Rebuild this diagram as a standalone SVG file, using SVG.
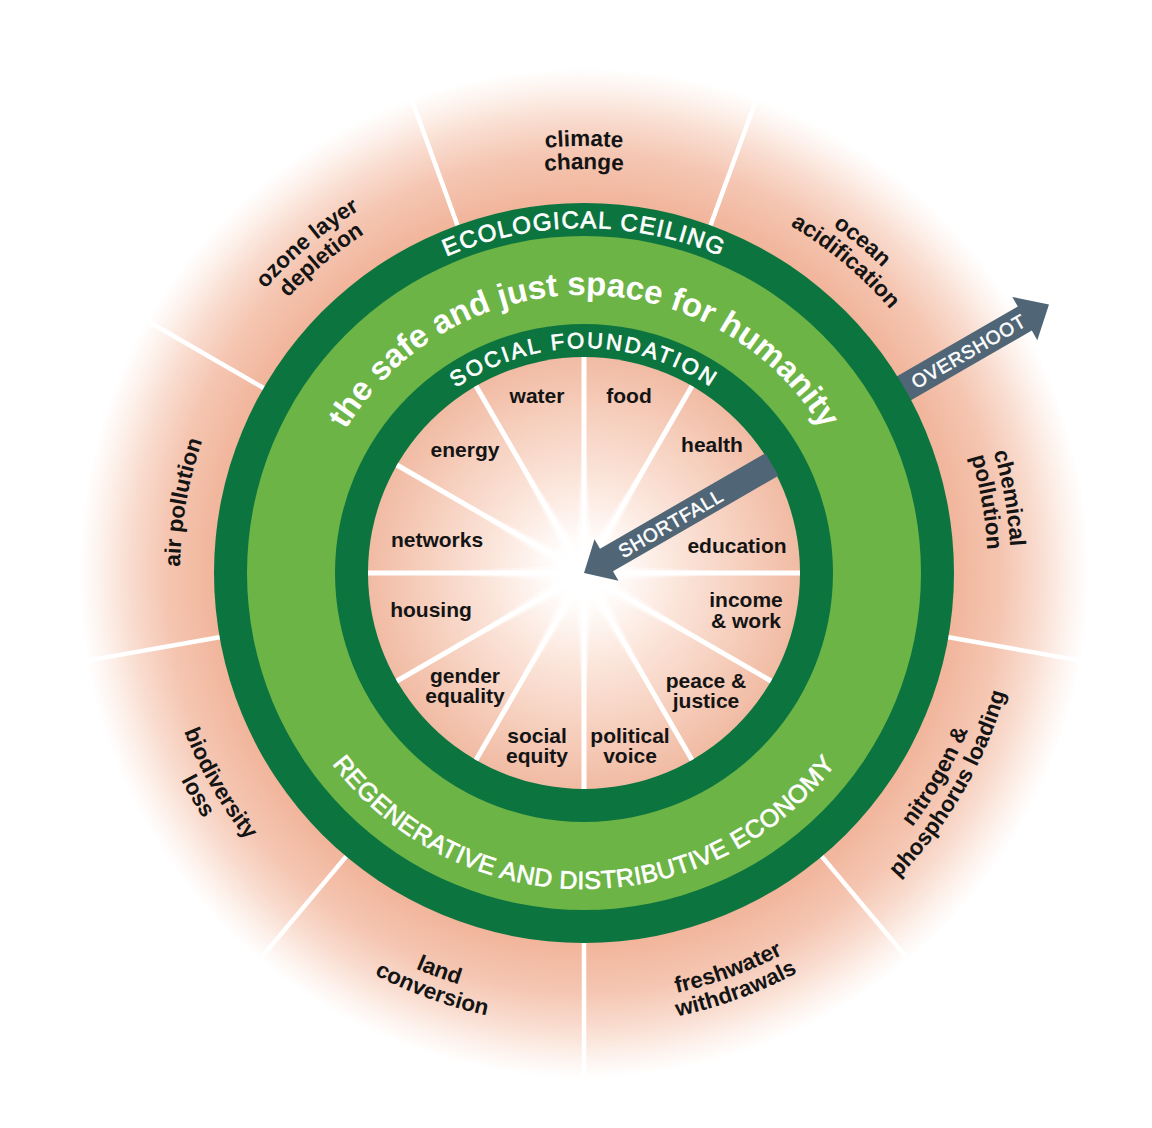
<svg xmlns="http://www.w3.org/2000/svg" width="1152" height="1128" viewBox="0 0 1152 1128">
<defs>
<style>
.lbl{font-family:"Liberation Sans",Arial,Helvetica,sans-serif;font-weight:bold;fill:#141414;}
.out{font-size:22.5px;text-anchor:middle;}
.in{font-size:21px;text-anchor:middle;}
.ring{font-family:"Liberation Sans",Arial,Helvetica,sans-serif;fill:#ffffff;text-anchor:middle;}
.med{stroke:#ffffff;stroke-width:0.7px;}
.arrtxt{font-family:"Liberation Sans",Arial,Helvetica,sans-serif;fill:#ffffff;stroke:#ffffff;stroke-width:0.5px;font-size:19px;letter-spacing:0.8px;text-anchor:middle;}
.spoke{stroke:#ffffff;stroke-width:5;}
.ospoke{stroke:#ffffff;stroke-width:4.5;}
.dark{fill:#0c743f;}
.light{fill:#6cb446;}
.arrow{fill:#506676;}
</style>
<radialGradient id="outerPink" gradientUnits="userSpaceOnUse" cx="584" cy="573" r="505">
<stop offset="0.733" stop-color="#f1b59b"/>
<stop offset="0.83" stop-color="#f5c6b2"/>
<stop offset="0.90" stop-color="#f9dccf"/>
<stop offset="0.955" stop-color="#fdf1eb"/>
<stop offset="1" stop-color="#ffffff"/>
</radialGradient>
<radialGradient id="innerPink" gradientUnits="userSpaceOnUse" cx="584" cy="573" r="216">
<stop offset="0" stop-color="#ffffff"/>
<stop offset="0.15" stop-color="#fffcfa"/>
<stop offset="0.45" stop-color="#fbe4d9"/>
<stop offset="0.75" stop-color="#f6cebc"/>
<stop offset="1" stop-color="#f1bba3"/>
</radialGradient>
<radialGradient id="glow" gradientUnits="userSpaceOnUse" cx="584" cy="573" r="200">
<stop offset="0" stop-color="#ffffff" stop-opacity="0.9"/>
<stop offset="0.25" stop-color="#ffffff" stop-opacity="0.5"/>
<stop offset="0.7" stop-color="#ffffff" stop-opacity="0"/>
</radialGradient>
<polygon id="ray" points="576,573 584,380 592,573 584,766"/>
<line id="ospk" x1="584" y1="207" x2="584" y2="70"/>
<path id="u427" d="M163.49 498.85 A427 427 0 0 1 1004.51 498.85"/>
<path id="u404" d="M186.14 502.85 A404 404 0 0 1 981.86 502.85"/>
<path id="u345" d="M244.24 513.09 A345 345 0 0 1 923.76 513.09"/>
<path id="u278" d="M310.22 524.73 A278 278 0 0 1 857.78 524.73"/>
<path id="u225" d="M362.42 533.93 A225 225 0 0 1 805.58 533.93"/>
<path id="l430" d="M160.53 647.67 A430 430 0 0 0 1007.47 647.67"/>
<path id="l453" d="M137.88 651.66 A453 453 0 0 0 1030.12 651.66"/>
<path id="l415" d="M175.30 645.06 A415 415 0 0 0 992.70 645.06"/>
<path id="l438" d="M152.65 649.06 A438 438 0 0 0 1015.35 649.06"/>
<path id="l316" d="M272.80 627.87 A316 316 0 0 0 895.20 627.87"/>
</defs>

<rect x="0" y="0" width="1152" height="1128" fill="#ffffff"/>

<g id="background">
<circle cx="584" cy="573" r="505" fill="url(#outerPink)"/>
<g class="ospoke">
<use href="#ospk" transform="rotate(20 584 573)"/>
<use href="#ospk" transform="rotate(60 584 573)"/>
<use href="#ospk" transform="rotate(100 584 573)"/>
<use href="#ospk" transform="rotate(140 584 573)"/>
<use href="#ospk" transform="rotate(180 584 573)"/>
<use href="#ospk" transform="rotate(220 584 573)"/>
<use href="#ospk" transform="rotate(260 584 573)"/>
<use href="#ospk" transform="rotate(300 584 573)"/>
<use href="#ospk" transform="rotate(340 584 573)"/>
</g>
</g>

<g id="connectors">
<polygon id="overshoot-arrow" class="arrow" points="880.1,385.9 1017.8,306.4 1012.3,296.9 1049,304.5 1037.3,340.2 1031.8,330.6 894.1,410.1"/>
</g>

<g id="rings">
<circle class="dark" cx="584" cy="573" r="370"/>
<circle class="light" cx="584" cy="573" r="337"/>
<circle class="dark" cx="584" cy="573" r="249"/>
<circle cx="584" cy="573" r="216" fill="url(#innerPink)"/>
<g fill="url(#glow)">
<use href="#ray"/>
<use href="#ray" transform="rotate(30 584 573)"/>
<use href="#ray" transform="rotate(60 584 573)"/>
<use href="#ray" transform="rotate(90 584 573)"/>
<use href="#ray" transform="rotate(120 584 573)"/>
<use href="#ray" transform="rotate(150 584 573)"/>
</g>
<g class="spoke">
<line x1="584" y1="357" x2="584" y2="789"/>
<line x1="692" y1="385.94" x2="476" y2="760.06"/>
<line x1="771.06" y1="465" x2="396.94" y2="681"/>
<line x1="800" y1="573" x2="368" y2="573"/>
<line x1="771.06" y1="681" x2="396.94" y2="465"/>
<line x1="692" y1="760.06" x2="476" y2="385.94"/>
</g>
</g>

<g id="connectors-inner">
<polygon id="shortfall-arrow" class="arrow" points="584,573 594.5,539.2 600,548.7 765.4,453.2 778.4,475.8 613,571.3 618.5,580.8"/>
</g>

<g id="ring-labels">
<text id="ecological-ceiling" class="ring med" font-size="24" letter-spacing="1.4"><textPath href="#u345" startOffset="50%">ECOLOGICAL CEILING</textPath></text>
<text id="safe-just-space" class="ring" font-size="33" font-weight="bold"><textPath href="#u278" startOffset="50%">the safe and just space for humanity</textPath></text>
<text id="social-foundation" class="ring med" font-size="22" letter-spacing="2.5"><textPath href="#u225" startOffset="50%">SOCIAL FOUNDATION</textPath></text>
<text id="regenerative" class="ring med" font-size="25" letter-spacing="0.4"><textPath href="#l316" startOffset="50%">REGENERATIVE AND DISTRIBUTIVE ECONOMY</textPath></text>
<text id="overshoot-label" class="arrtxt" transform="translate(968.5,351) rotate(-30)" x="0" y="7">OVERSHOOT</text>
<text id="shortfall-label" class="arrtxt" transform="translate(670.6,523) rotate(-30)" x="0" y="7">SHORTFALL</text>
</g>

<g id="node-climate-change">
<text class="lbl out"><textPath href="#u427" startOffset="50%">climate</textPath></text>
<text class="lbl out"><textPath href="#u404" startOffset="50%">change</textPath></text>
</g>
<g id="node-ocean-acidification" transform="rotate(40 584 573)">
<text class="lbl out"><textPath href="#u427" startOffset="50%">ocean</textPath></text>
<text class="lbl out"><textPath href="#u404" startOffset="50%">acidification</textPath></text>
</g>
<g id="node-chemical-pollution" transform="rotate(80 584 573)">
<text class="lbl out"><textPath href="#u427" startOffset="50%">chemical</textPath></text>
<text class="lbl out"><textPath href="#u404" startOffset="50%">pollution</textPath></text>
</g>
<g id="node-nitrogen-phosphorus" transform="rotate(-60 584 573)">
<text class="lbl out"><textPath href="#l415" startOffset="50%">nitrogen &amp;</textPath></text>
<text class="lbl out"><textPath href="#l438" startOffset="50%">phosphorus loading</textPath></text>
</g>
<g id="node-freshwater" transform="rotate(-20 584 573)">
<text class="lbl out"><textPath href="#l430" startOffset="50%">freshwater</textPath></text>
<text class="lbl out"><textPath href="#l453" startOffset="50%">withdrawals</textPath></text>
</g>
<g id="node-land-conversion" transform="rotate(20 584 573)">
<text class="lbl out"><textPath href="#l430" startOffset="50%">land</textPath></text>
<text class="lbl out"><textPath href="#l453" startOffset="50%">conversion</textPath></text>
</g>
<g id="node-biodiversity-loss" transform="rotate(60 584 573)">
<text class="lbl out"><textPath href="#l430" startOffset="50%">biodiversity</textPath></text>
<text class="lbl out"><textPath href="#l453" startOffset="50%">loss</textPath></text>
</g>
<g id="node-air-pollution" transform="rotate(-80 584 573)">
<text class="lbl out"><textPath href="#u404" startOffset="50%">air pollution</textPath></text>
</g>
<g id="node-ozone-depletion" transform="rotate(-40 584 573)">
<text class="lbl out"><textPath href="#u427" startOffset="50%">ozone layer</textPath></text>
<text class="lbl out"><textPath href="#u404" startOffset="50%">depletion</textPath></text>
</g>

<g id="node-water"><text class="lbl in" x="537" y="403">water</text></g>
<g id="node-food"><text class="lbl in" x="629" y="403">food</text></g>
<g id="node-health"><text class="lbl in" x="712" y="452">health</text></g>
<g id="node-education"><text class="lbl in" x="737" y="553">education</text></g>
<g id="node-income-work"><text class="lbl in" x="746" y="607">income</text><text class="lbl in" x="746" y="628">&amp; work</text></g>
<g id="node-peace-justice"><text class="lbl in" x="706" y="688">peace &amp;</text><text class="lbl in" x="706" y="708">justice</text></g>
<g id="node-political-voice"><text class="lbl in" x="630" y="743">political</text><text class="lbl in" x="630" y="763">voice</text></g>
<g id="node-social-equity"><text class="lbl in" x="537" y="743">social</text><text class="lbl in" x="537" y="763">equity</text></g>
<g id="node-gender-equality"><text class="lbl in" x="465" y="683">gender</text><text class="lbl in" x="465" y="703">equality</text></g>
<g id="node-housing"><text class="lbl in" x="431" y="617">housing</text></g>
<g id="node-networks"><text class="lbl in" x="437" y="547">networks</text></g>
<g id="node-energy"><text class="lbl in" x="465" y="457">energy</text></g>
</svg>
